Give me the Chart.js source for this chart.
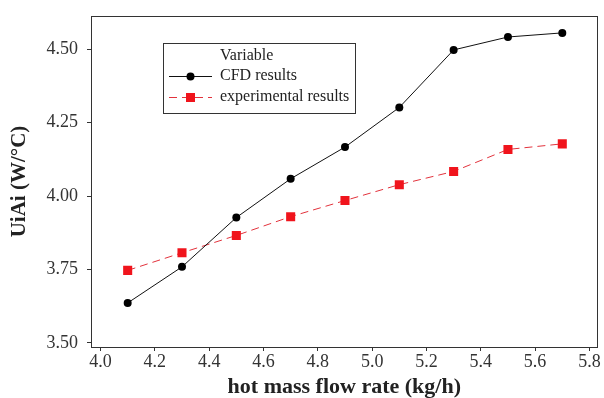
<!DOCTYPE html>
<html>
<head>
<meta charset="utf-8">
<script src="https://cdn.jsdelivr.net/npm/chart.js@4"></script>
<style>
  body { margin: 0; background: #fff; }
  #wrap { width: 604px; height: 398px; }
</style>
</head>
<body>
<div id="wrap"><canvas id="myChart"></canvas></div>
<script>
// data
var flowRate = [4.1, 4.3, 4.5, 4.7, 4.9, 5.1, 5.3, 5.5, 5.7];
var cfdResults = [3.636, 3.759, 3.927, 4.059, 4.167, 4.302, 4.498, 4.542, 4.556];
var expResults = [3.747, 3.807, 3.866, 3.93, 3.985, 4.039, 4.084, 4.159, 4.178];
var xTicks = [4.0, 4.2, 4.4, 4.6, 4.8, 5.0, 5.2, 5.4, 5.6, 5.8];
var yTicks = [3.5, 3.75, 4.0, 4.25, 4.5];

var serif = "'Liberation Serif', 'Times New Roman', serif";

function pairs(xs, ys) {
  return xs.map(function(x, i) { return { x: x, y: ys[i] }; });
}

// box around the plot + the "Variable" legend
var framePlugin = {
  id: "frame",
  beforeDatasetsDraw: function(chart) {
    var a = chart.chartArea, c = chart.ctx;
    c.save();
    c.strokeStyle = "#333";
    c.lineWidth = 1;
    c.strokeRect(Math.round(a.left) + 0.5, Math.round(a.top) + 0.5,
      Math.round(a.right - a.left) - 1, Math.round(a.bottom - a.top));
    c.restore();
  },
  afterDatasetsDraw: function(chart) {
    var c = chart.ctx;
    var bx = 163, by = 43, bw = 192, bh = 70;
    c.save();
    c.fillStyle = "#fff";
    c.fillRect(bx, by, bw, bh);
    c.strokeStyle = "#333";
    c.lineWidth = 1;
    c.strokeRect(bx + 0.5, by + 0.5, bw, bh);
    c.font = "16px " + serif;
    c.fillStyle = "#222";
    c.textBaseline = "middle";
    c.fillText("Variable", 220, 56);
    var rows = [76, 97];
    chart.data.datasets.forEach(function(ds, i) {
      var y = rows[i] + 0.5;
      c.strokeStyle = ds.borderColor;
      c.lineWidth = 1;
      c.setLineDash(ds.borderDash || []);
      c.beginPath();
      c.moveTo(169, y);
      c.lineTo(212, y);
      c.stroke();
      c.setLineDash([]);
      c.fillStyle = ds.pointBackgroundColor;
      if (ds.pointStyle === "rect") {
        c.fillRect(186, y - 4.5, 9, 9);
      } else {
        c.beginPath();
        c.arc(190.5, y, 4, 0, Math.PI * 2);
        c.fill();
      }
      c.fillStyle = "#222";
      c.fillText(ds.label, 220, rows[i]);
    });
    c.restore();
  }
};

var ctx = document.getElementById("myChart").getContext("2d");
var chart = new Chart(ctx, {
  type: "line",
  data: {
    datasets: [
      {
        label: "CFD results",
        data: pairs(flowRate, cfdResults),
        borderColor: "#111",
        borderWidth: 1,
        pointStyle: "circle",
        pointRadius: 4,
        pointBackgroundColor: "#000",
        pointBorderWidth: 0,
        tension: 0
      },
      {
        label: "experimental results",
        data: pairs(flowRate, expResults),
        borderColor: "#e2323c",
        borderWidth: 1,
        borderDash: [8, 5],
        pointStyle: "rect",
        pointRadius: 6.4,
        pointBackgroundColor: "#f0141c",
        pointBorderWidth: 0,
        tension: 0
      }
    ]
  },
  options: {
    responsive: true,
    maintainAspectRatio: false,
    animation: false,
    layout: { padding: { left: 0, top: 16, right: 6, bottom: 0 } },
    plugins: {
      legend: { display: false },
      tooltip: { enabled: false }
    },
    scales: {
      x: {
        type: "linear",
        min: 3.965,
        max: 5.83,
        afterBuildTicks: function(s) { s.ticks = xTicks.map(function(v) { return { value: v }; }); },
        afterFit: function(s) { s.height = 51; s.paddingLeft = 0; s.paddingRight = 0; },
        border: { display: false },
        grid: { drawOnChartArea: false, drawTicks: true, tickLength: 4, color: "#333" },
        ticks: {
          color: "#333",
          padding: 0,
          maxRotation: 0,
          font: { family: serif, size: 18 },
          callback: function(v) { return v.toFixed(1); }
        },
        title: {
          display: true,
          text: "hot mass flow rate (kg/h)",
          color: "#222",
          padding: 0,
          font: { family: serif, size: 22, weight: "bold", lineHeight: 1 }
        }
      },
      y: {
        type: "linear",
        min: 3.486,
        max: 4.6135,
        afterBuildTicks: function(s) { s.ticks = yTicks.map(function(v) { return { value: v }; }); },
        afterFit: function(s) { s.width = 91; s.paddingTop = 0; s.paddingBottom = 0; },
        border: { display: false },
        grid: { drawOnChartArea: false, drawTicks: true, tickLength: 4, color: "#333" },
        ticks: {
          color: "#333",
          padding: 9,
          font: { family: serif, size: 18 },
          callback: function(v) { return v.toFixed(2); }
        },
        title: {
          display: true,
          text: "UiAi (W/°C)",
          color: "#222",
          padding: { top: 7, bottom: 0 },
          font: { family: serif, size: 21, weight: "bold", lineHeight: 1.2 }
        }
      }
    }
  },
  plugins: [framePlugin]
});
</script>
</body>
</html>
